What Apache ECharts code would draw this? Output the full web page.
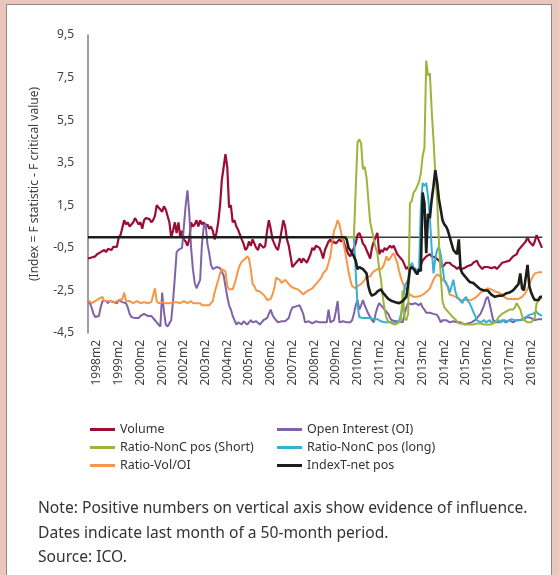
<!DOCTYPE html>
<html><head><meta charset="utf-8">
<script src="https://cdn.jsdelivr.net/npm/echarts@6/dist/echarts.min.js"></script>
<style>
html,body{margin:0;padding:0;background:#ebc6be;width:559px;height:575px;overflow:hidden}
#panel{position:absolute;left:6px;top:4px;width:544px;height:600px;background:#fff;border:1px solid #8a8a8a}
#chart{position:absolute;left:0;top:0;width:559px;height:575px}
</style></head><body>
<div id="panel"></div>
<div id="chart"></div>
<script>
// categories: monthly, 1997m9 .. 2018m8
const startYear = 1997, startMonth = 9, nMonths = 252;
const categories = [];
for (let k = 0; k < nMonths; k++) {
  const m = startMonth - 1 + k;
  categories.push((startYear + Math.floor(m / 12)) + 'm' + (m % 12 + 1));
}
const yTicks = [-4.5, -2.5, -0.5, 1.5, 3.5, 5.5, 7.5, 9.5];

const volume = [
-1.0,-1.0,-0.95,-0.9,-0.9,-0.8,-0.75,-0.7,-0.65,-0.6,-0.7,-0.55,
-0.5,-0.6,-0.45,-0.5,-0.45,0.0,0.1,0.05,0.8,0.6,0.7,0.5,
0.6,0.7,0.9,0.75,0.6,0.7,0.4,0.8,0.9,0.9,0.85,0.7,
0.8,1.0,1.5,1.4,1.3,1.2,1.45,1.3,1.0,0.7,0.0,0.3,
0.7,0.2,0.7,0.0,0.3,-0.1,-0.2,-0.4,-0.1,0.7,0.5,0.6,
0.8,0.5,0.8,0.6,0.7,0.5,0.6,0.4,0.5,0.3,-0.1,0.2,
0.7,1.5,2.7,3.3,3.9,3.3,1.4,1.5,0.7,0.8,0.5,0.35,
0.3,-0.1,-0.3,-0.6,-0.5,-0.2,-0.4,-0.1,-0.3,-0.5,-0.6,-0.3,
-0.3,-0.5,-0.4,0.3,0.8,0.4,-0.1,-0.3,-0.5,-0.6,-0.2,0.3,
0.8,0.5,-0.1,-0.4,-0.9,-1.4,-1.3,-1.2,-1.2,-1.0,-1.2,-1.0,
-1.1,-1.2,-1.2,-0.8,-0.5,-0.6,-0.4,-0.35,-0.5,-0.7,-1.0,-0.6,
-0.4,-0.2,-0.1,-0.3,-0.2,-0.3,-0.25,-0.1,-0.2,-0.1,-0.4,-0.6,
-0.8,-0.9,-0.95,-0.5,-0.3,0.1,0.2,0.0,-0.3,-0.4,-0.6,-0.8,
-1.0,-0.5,-0.2,0.0,0.2,-0.8,-0.6,-0.7,-0.5,-0.6,-0.5,-0.4,
-0.5,-0.4,-0.6,-0.8,-0.9,-1.0,-1.1,-1.3,-1.5,-1.4,-1.3,-1.4,
-1.4,-1.5,-1.7,-1.5,-1.3,-1.1,-1.0,-0.9,-0.85,-0.8,-0.9,-0.85,
-0.95,-0.95,-1.1,-1.2,-1.4,-1.3,-1.2,-1.25,-1.2,-1.3,-1.35,-1.4,
-1.5,-1.4,-1.5,-1.5,-1.45,-1.4,-1.35,-1.4,-1.3,-1.2,-1.15,-1.1,
-1.3,-1.4,-1.5,-1.4,-1.35,-1.4,-1.4,-1.45,-1.5,-1.4,-1.5,-1.4,
-1.3,-1.2,-1.25,-1.15,-1.1,-1.1,-1.0,-0.9,-0.85,-0.8,-0.6,-0.5,
-0.4,-0.3,-0.2,0.0,-0.2,-0.3,-0.4,-0.2,0.1,-0.1,-0.3,-0.5];

const openInterest = [
-2.95,-3.1,-3.3,-3.6,-3.75,-3.75,-3.7,-3.3,-3.0,-2.95,-3.0,-3.1,
-3.0,-2.95,-3.05,-3.0,-3.1,-2.95,-3.0,-3.05,-3.0,-3.1,-3.3,-3.6,
-3.75,-3.8,-3.8,-3.75,-3.8,-3.7,-3.65,-3.6,-3.65,-3.7,-3.65,-3.7,
-3.75,-3.9,-4.0,-4.1,-4.2,-2.6,-3.5,-4.1,-4.2,-4.2,-3.9,-3.0,
-1.9,-0.7,-0.6,-0.55,-0.5,-0.45,1.5,2.2,1.1,-0.5,-1.5,-2.15,
-2.4,-2.45,-2.0,-0.3,0.5,0.65,-0.3,-0.75,-1.3,-1.5,-1.45,-1.4,
-1.4,-1.45,-1.4,-1.8,-2.3,-2.8,-3.2,-3.4,-3.7,-3.9,-4.1,-4.0,
-4.0,-4.1,-3.95,-4.0,-4.1,-4.0,-3.9,-4.0,-4.05,-3.95,-4.0,-4.1,
-4.0,-3.9,-3.95,-3.8,-3.6,-3.4,-3.65,-3.8,-3.9,-4.0,-4.0,-3.95,
-3.9,-3.95,-3.9,-3.8,-3.5,-3.3,-3.3,-3.25,-3.3,-3.2,-3.2,-3.6,
-4.0,-4.0,-3.95,-4.0,-4.05,-4.0,-3.95,-4.0,-4.0,-4.05,-4.0,-3.95,
-4.0,-3.4,-4.0,-4.0,-3.9,-3.5,-3.0,-4.0,-4.0,-3.95,-4.0,-4.0,
-3.95,-4.0,-3.9,-3.6,-3.2,-2.95,-3.4,-3.2,-2.95,-3.2,-3.4,-3.6,
-3.75,-3.9,-4.0,-3.6,-3.3,-3.1,-3.2,-3.3,-3.4,-3.4,-3.6,-3.8,
-3.9,-3.9,-3.95,-3.9,-3.95,-4.0,-4.0,-3.6,-3.3,-3.1,-3.1,-3.15,
-3.1,-3.1,-3.15,-3.2,-3.1,-3.3,-3.4,-3.55,-3.5,-3.55,-3.6,-3.6,
-3.65,-3.65,-3.8,-4.0,-3.9,-3.9,-3.9,-3.95,-4.0,-4.0,-3.95,-4.0,
-4.0,-4.05,-4.0,-4.05,-4.1,-4.1,-4.05,-4.1,-4.0,-3.95,-3.9,-3.8,
-3.7,-3.6,-3.55,-3.2,-2.9,-2.8,-3.1,-3.5,-3.9,-3.95,-4.0,-3.95,
-4.0,-3.9,-3.95,-4.0,-3.95,-3.9,-3.95,-4.0,-3.95,-3.9,-3.85,-3.9,
-3.9,-3.85,-3.8,-3.75,-3.75,-3.8,-3.85,-3.9,-3.9,-3.85,-3.9,-3.85];

const ratioVolOI = [
-2.95,-3.0,-3.1,-3.05,-3.0,-2.95,-2.9,-2.85,-2.8,-3.0,-3.05,-3.0,
-2.95,-3.0,-3.0,-3.05,-3.0,-2.95,-3.0,-2.9,-2.6,-3.0,-3.05,-3.0,
-3.05,-3.1,-3.05,-3.0,-3.05,-3.1,-3.05,-3.05,-3.0,-3.1,-3.05,-3.05,
-3.0,-2.4,-3.0,-3.1,-3.1,-3.05,-3.1,-3.1,-3.15,-3.1,-3.1,-3.05,
-3.1,-3.05,-3.05,-3.1,-3.05,-3.0,-3.05,-3.1,-3.05,-3.0,-3.1,-3.05,
-3.1,-3.15,-3.1,-3.2,-3.15,-3.2,-3.15,-3.2,-3.1,-3.0,-2.6,-2.3,
-2.0,-1.7,-1.5,-1.45,-1.6,-2.3,-2.45,-2.5,-2.45,-2.2,-1.9,-1.55,
-1.3,-1.15,-1.1,-1.0,-0.9,-1.0,-1.5,-2.2,-2.3,-2.5,-2.45,-2.55,
-2.6,-2.7,-2.8,-2.95,-2.9,-2.9,-2.7,-2.4,-1.9,-1.85,-2.0,-2.15,
-2.1,-2.0,-2.1,-2.2,-2.3,-2.35,-2.4,-2.45,-2.45,-2.5,-2.6,-2.7,
-2.6,-2.55,-2.5,-2.45,-2.4,-2.3,-2.2,-2.1,-2.0,-1.9,-1.7,-1.6,
-1.5,-1.2,-0.9,-0.25,0.3,0.5,0.8,0.6,0.2,-0.2,-0.6,-1.1,
-1.6,-2.0,-2.3,-2.3,-2.4,-2.3,-2.3,-2.2,-2.15,-2.0,-1.85,-1.9,
-1.85,-1.7,-1.6,-1.55,-1.5,-1.45,-1.5,-1.4,-1.2,-0.9,-1.1,-1.0,
-0.85,-0.75,-0.7,-1.2,-1.6,-1.9,-2.15,-2.3,-2.45,-2.6,-2.7,-2.75,
-2.8,-2.75,-2.8,-2.8,-2.75,-2.7,-2.65,-2.6,-2.5,-2.4,-2.2,-2.0,
-1.85,-1.75,-1.8,-1.85,-2.0,-1.95,-2.1,-2.4,-2.7,-2.7,-2.75,-2.8,
-2.85,-2.9,-2.95,-2.9,-2.95,-3.0,-2.95,-3.0,-2.95,-2.9,-2.85,-2.8,
-2.7,-2.6,-2.55,-2.5,-2.45,-2.4,-2.4,-2.45,-2.5,-2.55,-2.6,-2.6,
-2.6,-2.7,-2.8,-2.85,-2.9,-2.95,-2.9,-2.95,-2.9,-2.85,-2.9,-2.9,
-2.8,-2.7,-2.6,-2.45,-2.2,-2.0,-1.85,-1.7,-1.7,-1.65,-1.6,-1.65];

// Ratio-NonC series begin at month index 143 (2009m8)
const nonCStart = 143;
const nonCShort = [
0,0,0,0,0,0,
4.45,4.6,4.4,3.2,3.3,2.8,1.75,0.7,0.3,-0.1,-0.5,-0.75,
-1.5,-2.0,-2.8,-3.4,-3.8,-3.95,-4.0,-4.05,-4.0,-4.1,-4.05,-4.0,
-3.9,-2.5,-3.8,-3.9,-3.6,1.6,1.7,2.1,2.2,2.2,2.6,3.0,
3.8,4.2,8.3,7.6,7.7,6.0,4.6,3.0,1.8,-0.2,-1.8,-3.0,
-3.3,-3.3,-3.5,-3.55,-3.7,-3.75,-3.85,-3.9,
-4.05,-4.1,-4.05,-4.1,-4.1,-4.05,-4.1,-4.05,-4.1,-4.1,-4.05,-4.1,
-4.05,-4.05,-4.1,-4.05,-4.1,-4.05,-4.1,-4.05,-4.0,
-3.9,-3.75,-3.7,-3.6,-3.55,-3.5,-3.45,-3.4,-3.35,-3.4,-3.3,-3.1,
-3.1,-3.4,-3.7,-3.9,-3.95,-4.0,-4.0,-4.0,-3.95,-3.8,-3.1,-3.0,
-2.9,-2.85];
const nonCLong = [
0,0,0,0,0,0,
-3.2,-3.75,-3.8,-3.8,-3.75,-3.8,-3.85,-3.8,-3.75,-3.85,-3.9,-3.85,
-3.9,-3.95,-4.0,-4.0,-4.05,-4.0,-4.05,-4.0,-4.0,-4.05,-4.0,-3.95,
-3.9,-3.3,-2.3,-2.3,-2.0,-1.5,-1.2,-1.4,-1.7,-1.5,-1.6,1.4,
2.55,2.4,2.55,1.9,0.95,-0.5,-1.7,-1.0,-0.6,-0.45,-0.8,-1.4,
-2.0,-2.2,-2.3,-2.6,-2.3,-2.0,-2.5,-2.8,-2.9,-3.0,-3.1,-2.9,
-2.8,-3.0,-3.1,-3.3,-3.5,-3.7,-3.9,-3.95,-4.0,-3.95,-3.9,-4.0,
-3.95,-3.9,-4.0,-3.95,-4.0,-3.95,-3.9,-4.0,-3.95,-3.9,-3.9,-3.95,
-3.9,-3.85,-3.9,-3.9,-3.85,-3.9,-3.9,-3.85,-3.8,-3.75,-3.7,-3.65,
-3.6,-3.6,-3.55,-3.5,-3.6,-3.65,-3.7];

const indexTNet = [
0,0,0,0,0,0,0,0,0,0,0,0,
0,0,0,0,0,0,0,0,0,0,0,0,
0,0,0,0,0,0,0,0,0,0,0,0,
0,0,0,0,0,0,0,0,0,0,0,0,
0,0,0,0,0,0,0,0,0,0,0,0,
0,0,0,0,0,0,0,0,0,0,0,0,
0,0,0,0,0,0,0,0,0,0,0,0,
0,0,0,0,0,0,0,0,0,0,0,0,
0,0,0,0,0,0,0,0,0,0,0,0,
0,0,0,0,0,0,0,0,0,0,0,0,
0,0,0,0,0,0,0,0,0,0,0,0,
0,0,0,0,0,0,0,0,0,0,0,-0.1,
-0.5,-0.6,-0.75,-0.9,-1.1,-1.5,-1.4,-1.45,-1.5,-1.55,-1.7,-2.3,
-2.6,-2.75,-2.8,-2.65,-2.55,-2.5,-2.45,-2.6,-2.7,-2.8,-2.9,-2.95,
-3.0,-3.05,-3.05,-3.1,-3.1,-3.1,-3.0,-2.9,-2.8,-2.2,-1.5,-1.4,
-1.4,-1.6,-1.75,-1.5,-1.6,2.1,1.6,-0.75,1.1,0.9,1.75,2.4,
3.15,2.6,1.8,1.3,0.8,0.6,0.5,0.3,0.0,-0.3,-0.6,-0.7,
-0.8,-0.1,-1.5,-1.7,-1.75,-1.9,-2.0,-2.1,-2.15,-2.15,-2.2,-2.3,
-2.35,-2.45,-2.45,-2.5,-2.55,-2.5,-2.6,-2.7,-2.75,-2.8,-2.8,-2.75,
-2.8,-2.75,-2.7,-2.65,-2.6,-2.6,-2.55,-2.5,-2.4,-2.3,-2.2,-1.7,
-2.4,-2.5,-2.55,-1.3,-2.3,-2.6,-2.8,-2.95,-2.9,-2.95,-2.8,-2.8];

const seriesNames = ['Volume','Open Interest (OI)','Ratio-NonC pos (Short)','Ratio-NonC pos (long)','Ratio-Vol/OI','IndexT-net pos'];
const colors = {vol:'#9c0c35', oi:'#7f62a8', sh:'#9cb43a', lo:'#36b1d3', voi:'#f79646', idx:'#1d1d1b'};

function pad(start, vals){ const out = []; for (let k=0;k<start;k++) out.push(null); return out.concat(vals); }

const chart = echarts.init(document.getElementById('chart'), null, {renderer:'canvas'});
const font = '"Noto Sans", sans-serif';
function line(name, data, color, w, z){
  return {name, type:'line', data, symbol:'none', showSymbol:false, z,
    lineStyle:{color, width:w}, itemStyle:{color}, connectNulls:false, animation:false};
}
const idxSeries = line(seriesNames[5], indexTNet, colors.idx, 2.6, 9);
idxSeries.markLine = {silent:true, symbol:'none', label:{show:false}, animation:false,
  lineStyle:{color:'#3a3a3a', width:1, type:'solid'}, data:[{yAxis:0}]};

chart.setOption({
  backgroundColor:'transparent',
  animation:false,
  grid:{left:88, right:17, top:35, bottom:242, containLabel:false},
  xAxis:{type:'category', data:categories, boundaryGap:false,
    axisLine:{lineStyle:{color:'#7f7f7f', width:1.5}}, axisTick:{show:false},
    axisLabel:{rotate:90, margin:7, color:'#404040', fontSize:12, fontFamily:font,
      interval:(i, v)=> v.endsWith('m2') && v.length===6}},
  yAxis:{type:'value', min:-4.5, max:9.5, interval:2,
    name:'(Index = F statistic - F critical value)', nameLocation:'middle', nameGap:47,
    nameRotate:90, nameTextStyle:{color:'#404040', fontSize:12, fontFamily:font},
    axisLine:{show:true, lineStyle:{color:'#7f7f7f', width:1.5}}, axisTick:{show:false},
    splitLine:{show:false},
    axisLabel:{color:'#404040', fontSize:12, fontFamily:font, margin:14,
      formatter:v=> yTicks.some(t=>Math.abs(t-v)<1e-9) ? String(v).replace('.',',') : ''}},
  legend:[
    {data:[seriesNames[0],seriesNames[2],seriesNames[4]], orient:'vertical', left:85, top:418,
     itemWidth:25, itemHeight:3, icon:'rect', itemGap:5,
     textStyle:{color:'#333', fontSize:12.5, fontFamily:font}},
    {data:[seriesNames[1],seriesNames[3],seriesNames[5]], orient:'vertical', left:272, top:418,
     itemWidth:25, itemHeight:3, icon:'rect', itemGap:5,
     textStyle:{color:'#333', fontSize:12.5, fontFamily:font}}
  ],
  graphic:[
    {type:'text', left:38, top:501, style:{text:'Note: Positive numbers on vertical axis show evidence of influence.', fill:'#333', font:'15.6px '+font}},
    {type:'text', left:38, top:526, style:{text:'Dates indicate last month of a 50-month period.', fill:'#333', font:'15.6px '+font}},
    {type:'text', left:38, top:550, style:{text:'Source: ICO.', fill:'#333', font:'15.6px '+font}}
  ],
  series:[
    line(seriesNames[0], volume, colors.vol, 2.2, 2),
    line(seriesNames[1], openInterest, colors.oi, 2, 3),
    line(seriesNames[4], ratioVolOI, colors.voi, 2, 4),
    line(seriesNames[3], pad(nonCStart, nonCLong), colors.lo, 2, 5),
    line(seriesNames[2], pad(nonCStart, nonCShort), colors.sh, 2, 6),
    idxSeries
  ]
});
</script>
</body></html>
